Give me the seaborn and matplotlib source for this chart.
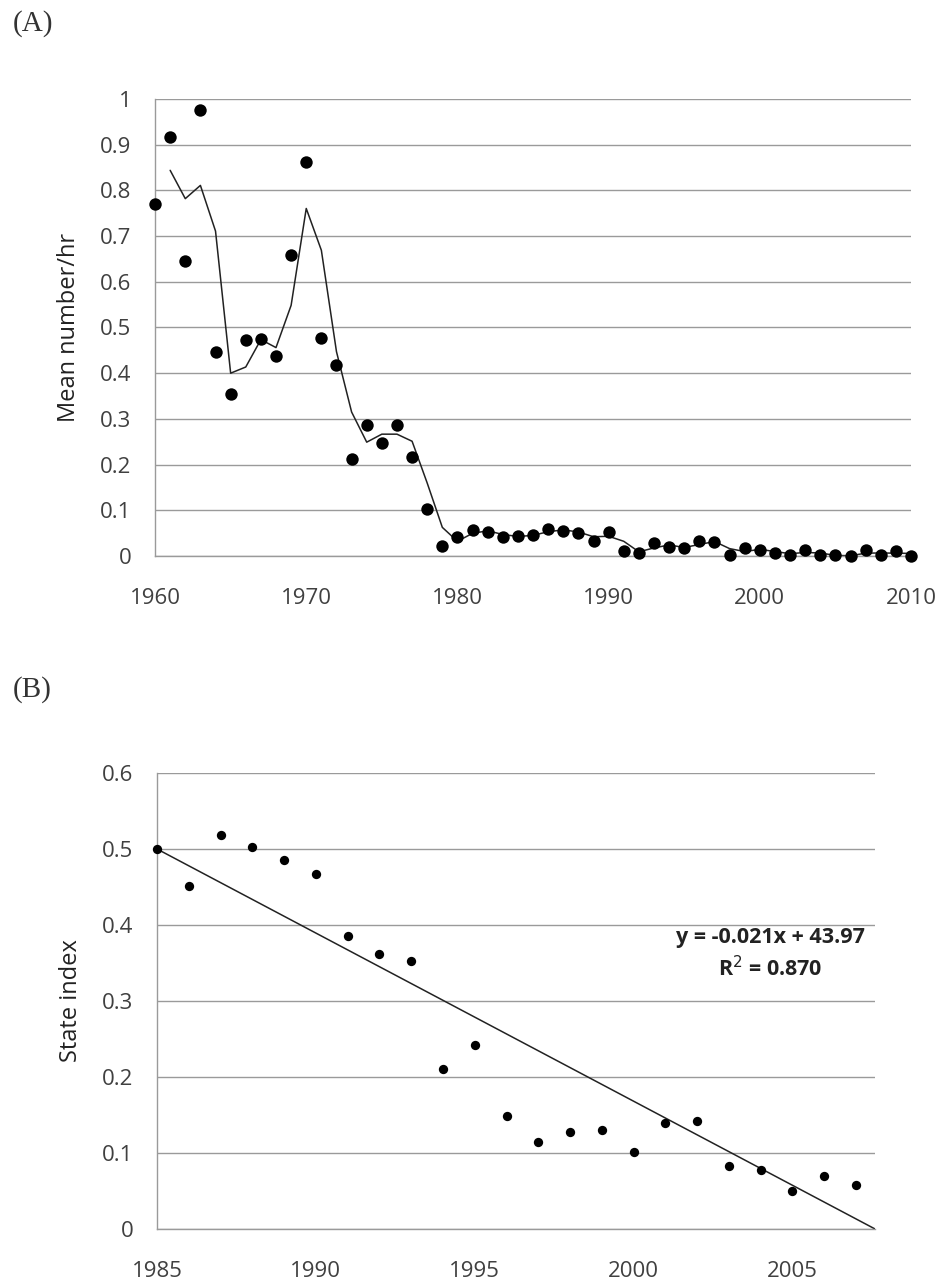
import numpy as np
import pandas as pd
import matplotlib
matplotlib.use("Agg")
import matplotlib.pyplot as plt
import seaborn as sns

# ---------------- data ----------------
years_a = list(range(1960, 2011))
mean_per_hr = [0.770, 0.918, 0.646, 0.976, 0.446, 0.354, 0.473, 0.474, 0.438, 0.659,
               0.862, 0.476, 0.418, 0.212, 0.286, 0.247, 0.286, 0.216, 0.103, 0.022,
               0.042, 0.057, 0.053, 0.041, 0.044, 0.046, 0.060, 0.054, 0.051, 0.033,
               0.053, 0.011, 0.007, 0.028, 0.020, 0.017, 0.033, 0.030, 0.002, 0.017,
               0.012, 0.007, 0.003, 0.012, 0.001, 0.001, 0.000, 0.012, 0.001, 0.011,
               0.000]

years_b = list(range(1985, 2008))
state_index = [0.500, 0.451, 0.519, 0.503, 0.486, 0.467, 0.385, 0.362, 0.352, 0.210,
               0.242, 0.149, 0.114, 0.127, 0.130, 0.101, 0.140, 0.142, 0.083, 0.078,
               0.050, 0.070, 0.058]

# linear trendline of panel B (start / end of the line)
trend_years = [1985, 2007.6]
trend_values = [0.500, 0.000]

yticks_a = [0, 0.1, 0.2, 0.3, 0.4, 0.5, 0.6, 0.7, 0.8, 0.9, 1]
yticklabels_a = ["0", "0.1", "0.2", "0.3", "0.4", "0.5", "0.6", "0.7", "0.8", "0.9", "1"]
xticks_a = [1960, 1970, 1980, 1990, 2000, 2010]
yticks_b = [0, 0.1, 0.2, 0.3, 0.4, 0.5, 0.6]
yticklabels_b = ["0", "0.1", "0.2", "0.3", "0.4", "0.5", "0.6"]
xticks_b = [1985, 1990, 1995, 2000, 2005]
eq_text = "y = -0.021x + 43.97"
r2_text = "R$^2$ = 0.870"

df_a = pd.DataFrame({"year": years_a, "value": mean_per_hr})
df_a["ma2"] = df_a["value"].rolling(2).mean()   # 2-period moving average trendline
df_b = pd.DataFrame({"year": years_b, "value": state_index})
df_trend = pd.DataFrame({"year": trend_years, "value": trend_values})

# ---------------- style ----------------
sns.set_style("white")
plt.rcParams["font.family"] = ["Open Sans", "DejaVu Sans"]
grid_c = "#9a9a9a"
text_c = "#404040"

fig = plt.figure(figsize=(9.5, 12.83), dpi=100)

def style_axes(ax):
    ax.grid(axis="y", color=grid_c, linewidth=1.0)
    ax.set_axisbelow(True)
    for s in ["top", "right"]:
        ax.spines[s].set_visible(False)
    for s in ["left", "bottom"]:
        ax.spines[s].set_color(grid_c)
        ax.spines[s].set_linewidth(1.0)
    ax.tick_params(axis="both", colors=grid_c, labelcolor=text_c, labelsize=16,
                   direction="out", length=6, width=1.0)
    ax.tick_params(axis="y", pad=11)

# ---------------- panel A ----------------
axA = fig.add_axes([0.1632, 0.5667, 0.7958, 0.3561])
sns.lineplot(data=df_a, x="year", y="ma2", ax=axA, color="#222222", linewidth=1.1)
sns.scatterplot(data=df_a, x="year", y="value", ax=axA, color="black", s=80,
                edgecolor="black", linewidth=0, clip_on=False, zorder=3)
axA.set_xlim(1960, 2010)
axA.set_ylim(0, 1)
axA.set_yticks(yticks_a)
axA.set_yticklabels(yticklabels_a)
axA.set_xticks(xticks_a)
axA.set_xticklabels([str(t) for t in xticks_a])
axA.set_xlabel("")
axA.set_ylabel("Mean number/hr", fontsize=17, color="#222222", labelpad=14)
style_axes(axA)
axA.tick_params(axis="x", pad=17)
fig.text(0.013, 0.9813, "(A)", family="Liberation Serif", fontsize=21, color="#333333",
         ha="left", va="center")

# ---------------- panel B ----------------
axB = fig.add_axes([0.1653, 0.0421, 0.7558, 0.3554])
sns.lineplot(data=df_trend, x="year", y="value", ax=axB, color="#222222", linewidth=1.1)
sns.scatterplot(data=df_b, x="year", y="value", ax=axB, color="black", s=45,
                edgecolor="black", linewidth=0, clip_on=False, zorder=3)
axB.set_xlim(1985, 2007.6)
axB.set_ylim(0, 0.6)
axB.set_yticks(yticks_b)
axB.set_yticklabels(yticklabels_b)
axB.set_xticks(xticks_b)
axB.set_xticklabels([str(t) for t in xticks_b])
axB.set_xticks(years_b, minor=True)
axB.set_xlabel("")
axB.set_ylabel("State index", fontsize=17, color="#222222", labelpad=14)
style_axes(axB)
axB.tick_params(axis="x", which="both", direction="in", length=5, pad=23)
axB.text(0.854, 0.640, eq_text, transform=axB.transAxes, ha="center", va="center",
         fontsize=15.5, fontweight="bold", color="#222222")
axB.text(0.854, 0.570, r2_text, transform=axB.transAxes, ha="center", va="center",
         fontsize=15.5, fontweight="bold", color="#222222")
fig.text(0.013, 0.4622, "(B)", family="Liberation Serif", fontsize=21, color="#333333",
         ha="left", va="center")

fig.savefig("out.png", dpi=100, facecolor="white")
